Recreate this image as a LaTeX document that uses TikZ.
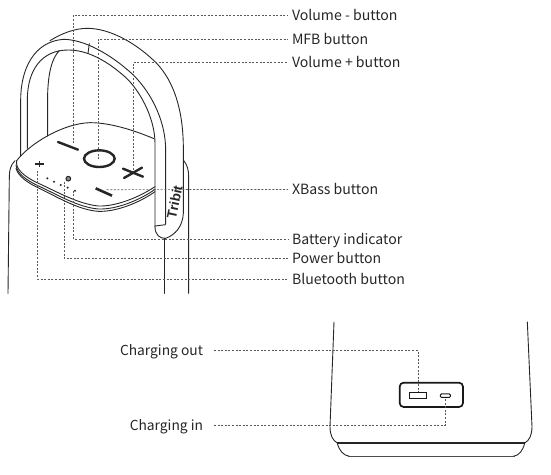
\documentclass[tikz,border=0pt]{standalone}
\usepackage{fontspec}
\setmainfont{Noto Sans CJK SC}
\newfontfamily\brandfont{Liberation Sans}
\begin{document}
\begin{tikzpicture}[x=1pt,y=-1pt,
  outline/.style={line width=0.9pt,black!85,line cap=round,line join=round},
  heavy/.style={line width=2.4pt,black!85,line cap=round},
  leader/.style={line width=0.7pt,black!65,dash pattern=on 2pt off 1.6pt},
  lbl/.style={anchor=west,inner sep=0pt,font=\fontsize{14.1}{16}\selectfont,text=black!85,outer sep=4pt,text height=10pt,text depth=0pt},
  lblr/.style={anchor=east,inner sep=0pt,font=\fontsize{13.8}{16}\selectfont,text=black!85,outer sep=11pt,text height=10pt,text depth=0pt}]
\useasboundingbox (0,0) rectangle (551,474);
\begin{scope}[x=0.33333pt,y=-0.33333pt]
% body behind handle
\draw[outline] (45,482) .. controls (32,495) and (28,510) .. (28,530) -- (24,880);
\draw[outline] (550,480) .. controls (562,495) and (566,510) .. (566,530) -- (566,880);
\draw[outline] (492,715) -- (492,880);
% handle
\draw[outline] (150,122) .. controls (185,100) and (225,85) .. (262,85) .. controls (330,85) and (410,130) .. (470,190) .. controls (522,245) and (549,330) .. (550,440) -- (550,640) .. controls (548,680) and (525,705) .. (497,715) .. controls (480,716) and (465,705) .. (465,680);
\draw[outline] (62,468) -- (62,300) .. controls (62,210) and (100,125) .. (190,118) .. controls (250,118) and (330,160) .. (400,225) .. controls (460,285) and (497,370) .. (497,450) -- (497,672);
\draw[outline] (82,445) -- (82,300) .. controls (82,210) and (125,150) .. (205,150) .. controls (260,150) and (320,180) .. (380,235) .. controls (430,285) and (465,365) .. (465,430) -- (465,680);
\draw[outline] (143,408) -- (143,280) .. controls (145,220) and (155,175) .. (178,152);
\draw[outline] (268,131) -- (264,160);
\draw[outline] (465,678) -- (497,674);
% plate
\draw[outline] (50,482) .. controls (90,430) and (190,370) .. (270,368) .. controls (330,368) and (400,390) .. (462,416);
\draw[outline] (50,482) .. controls (45,505) and (70,530) .. (120,552) .. controls (170,575) and (235,612) .. (295,618) .. controls (350,620) and (420,590) .. (465,560);
\draw[outline] (48,495) .. controls (50,520) and (80,542) .. (120,560) .. controls (170,583) and (235,622) .. (295,627) .. controls (350,629) and (420,600) .. (465,568);
\draw[outline] (48,505) .. controls (55,530) and (85,550) .. (120,566) .. controls (170,590) and (235,630) .. (295,634) .. controls (350,636) and (420,607) .. (465,575);
% icons
\draw[heavy] (174,426) -- (234,449);
\draw[heavy] (298,476) ellipse [x radius=46,y radius=25];
\draw[heavy] (369,506) -- (429,530);
\draw[heavy] (372,534) -- (426,503);
\draw[line width=2.6pt,black!85] (287,565) -- (336,587);
\draw[line width=1.6pt,black!85] (106,492) -- (131,492);
\draw[line width=1.6pt,black!85] (118,484) -- (118,501);
\draw[line width=1pt,black!85,fill=black!45] (205,536) circle [radius=7];
\foreach \x/\y in {142/535,162/545,182/555,203/563,225/572}
  \fill[black!85] (\x,\y) circle [radius=3.4];
% brand
\node[rotate=78,inner sep=0pt,font=\brandfont\bfseries\fontsize{13.5}{14}\selectfont,text=black!85] (brand) at (524,606) {Tribit};
% anchors
\coordinate (tVolMinus) at (219,430);
\coordinate (tMfb) at (294,478);
\coordinate (tVolPlus) at (401,510);
\coordinate (tXbass) at (320,569);
\coordinate (tBatt) at (221,572);
\coordinate (tPower) at (193,545);
\coordinate (tBt) at (112,512);
\end{scope}
% labels
\node[lbl] (volminus) at (288,15.3) {Volume - button};
\node[lbl] (mfb) at (288,39) {MFB button};
\node[lbl] (volplus) at (288,62) {Volume + button};
\node[lbl] (xbass) at (288,189.5) {XBass button};
\node[lbl] (batt) at (288,239.5) {Battery indicator};
\node[lbl] (power) at (288,258.5) {Power button};
\node[lbl] (bt) at (288,279) {Bluetooth button};
\draw[leader] (tVolMinus) |- (volminus.west);
\draw[leader] (tMfb) |- (mfb.west);
\draw[leader] (tVolPlus) |- (volplus.west);
\draw[leader] (tXbass) -- (xbass.west);
\draw[leader] (tBatt) |- (batt.west);
\draw[leader] (tPower) |- (power.west);
\draw[leader] (tBt) |- (bt.west);
% lower view
\begin{scope}[shift={(320,310)},x=0.33333pt,y=-0.33333pt]
\draw[outline] (42,36) -- (30,350) .. controls (30,375) and (38,392) .. (52,399);
\draw[outline] (622,36) -- (636,350) .. controls (636,375) and (628,392) .. (614,399);
\draw[line width=1.3pt,black!85] (50,399) -- (616,399);
\draw[outline] (52,400) .. controls (58,422) and (70,436) .. (88,439);
\draw[outline] (614,400) .. controls (608,422) and (598,436) .. (580,439);
\draw[line width=1.4pt,black!70] (85,439) -- (585,439);
\draw[line width=1.7pt,black!90,rounded corners=4pt] (239,218) rectangle (429,291);
\node[draw=black!90,line width=1pt,minimum width=17pt,minimum height=5.4pt,inner sep=0pt] (usb) at (294,256) {};
\node[draw=black!90,line width=1pt,rounded corners=1pt,minimum width=10pt,minimum height=3.4pt,inner sep=0pt] (micro) at (376,257) {};
\end{scope}
\node[lblr] (chout) at (214,350.3) {Charging out};
\node[lblr] (chin) at (214,425.3) {Charging in};
\draw[leader] (chout.east) -| (usb.north);
\draw[leader] (chin.east) -| (micro.south);
\end{tikzpicture}
\end{document}
